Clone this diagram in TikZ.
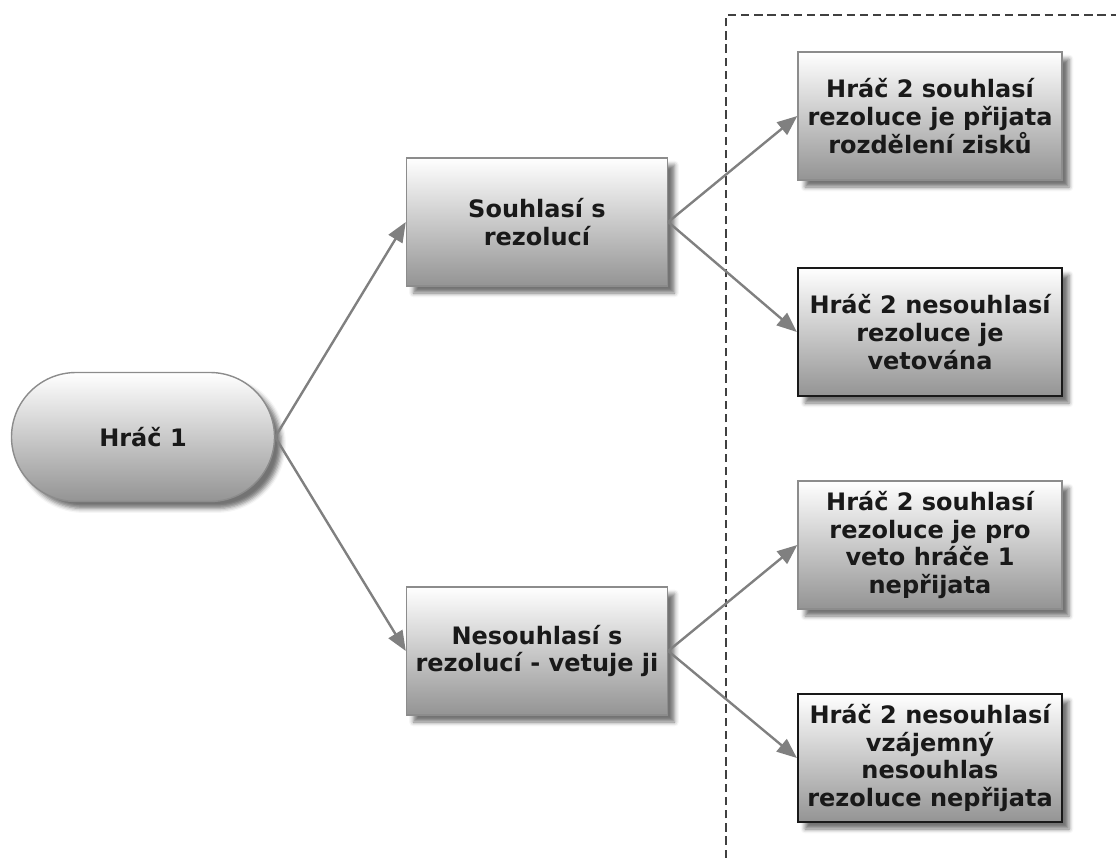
\documentclass[tikz,border=0pt]{standalone}
\usepackage{fontspec}
\setmainfont{DejaVu Sans}
\usetikzlibrary{shapes.misc,shadows.blur,arrows.meta,positioning}
\tikzset{
%Define standard arrow tip
>={Triangle[length=10pt,width=8pt]},
%Define styles for the boxes
box/.style={rectangle, draw=black!45, line width=0.7pt,
  top color=white, bottom color=black!42,
  blur shadow={shadow xshift=3.5pt, shadow yshift=-3.5pt, shadow opacity=55},
  minimum width=130.5pt, minimum height=64pt, inner sep=1pt,
  align=center, text=black!90, font=\bfseries\fontsize{12}{13.8}\selectfont},
result/.style={box, minimum width=132pt},
dark result/.style={result, draw=black!90, line width=1.1pt},
player/.style={box, rounded rectangle, minimum width=133.5pt, minimum height=64.5pt},
%Define line styles
connection/.style={->, draw=black!50, line width=1.2pt},
frame line/.style={draw=black!75, line width=1.3pt, dash pattern=on 4.2pt off 2.4pt},
}

\begin{document}
\begin{tikzpicture}[x=0.5pt, y=-0.5pt]
    \useasboundingbox (0,0) rectangle (1116,858);
    %Dashed frame round the outcomes
    \coordinate (fb) at (726,858);
    \coordinate (fc) at (726,15);
    \coordinate (fr) at (1116,15);
    \draw[frame line] (fb) -- (fc) -- (fr);
    %First move
    \node[player] (hrac) at (143,437) {Hráč 1};
    \node[box] (souhlas) at (537,222) {Souhlasí s\\rezolucí};
    \node[box] (nesouhlas) at (537,651) {Nesouhlasí s\\rezolucí - vetuje ji};
    %Outcomes
    \node[result] (ss) at (930,116) {Hráč 2 souhlasí\\rezoluce je přijata\\rozdělení zisků};
    \node[dark result] (sn) at (930,332) {Hráč 2 nesouhlasí\\rezoluce je\\vetována};
    \node[result] (ns) at (930,545) {Hráč 2 souhlasí\\rezoluce je pro\\veto hráče 1\\nepřijata};
    \node[dark result] (nn) at (930,758) {Hráč 2 nesouhlasí\\vzájemný\\nesouhlas\\rezoluce nepřijata};
    %Connections
    \draw[connection] (hrac.east) -- (souhlas.west);
    \draw[connection] (hrac.east) -- (nesouhlas.west);
    \draw[connection] (souhlas.east) -- (ss.west);
    \draw[connection] (souhlas.east) -- (sn.west);
    \draw[connection] (nesouhlas.east) -- (ns.west);
    \draw[connection] (nesouhlas.east) -- (nn.west);
\end{tikzpicture}
\end{document}
